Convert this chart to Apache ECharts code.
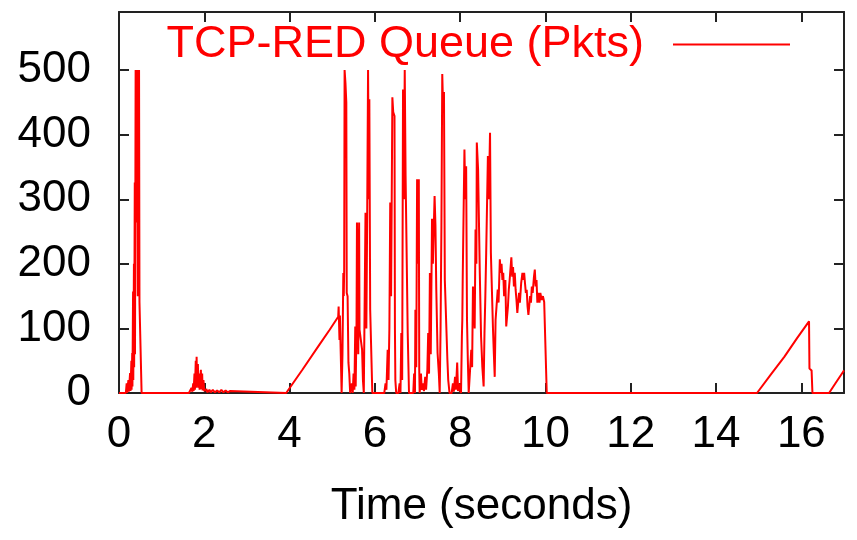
<!DOCTYPE html>
<html><head><meta charset="utf-8">
<script src="https://cdn.jsdelivr.net/npm/echarts@6/dist/echarts.min.js"></script>
<style>html,body{margin:0;padding:0;background:#fff}#c{width:857px;height:540px}</style>
</head><body><div id="c"></div>
<script>
// Time (seconds)
const times = [
  0, 0.16, 0.18, 0.19, 0.22, 0.23, 0.26, 0.27, 0.29, 0.295, 0.31, 0.315, 0.33, 0.335, 0.35, 0.355, 0.37, 0.375,
  0.39, 0.40, 0.41, 0.42, 0.43, 0.44, 0.45, 0.46, 0.47, 0.48, 0.49, 0.52, 0.53, 0.60,
  1.64, 1.68, 1.70, 1.72, 1.74, 1.75, 1.77, 1.78, 1.80, 1.81, 1.82, 1.83, 1.85, 1.86, 1.88, 1.89, 1.92, 1.93,
  1.95, 1.96, 1.98, 2.00, 2.05, 2.07, 2.12, 2.15, 2.20, 2.25, 2.30, 2.35, 2.40, 2.45, 2.50, 2.55, 2.60, 2.62,
  3.92, 4.30, 4.70, 4.94, 5.14, 5.15, 5.17, 5.18, 5.20, 5.22, 5.24, 5.26, 5.27, 5.28, 5.29, 5.31, 5.33, 5.34,
  5.36, 5.38, 5.40, 5.42, 5.46, 5.48, 5.50, 5.52, 5.54, 5.55, 5.57, 5.58, 5.60, 5.61, 5.63, 5.64, 5.68, 5.70,
  5.72, 5.74, 5.76, 5.78, 5.80, 5.82, 5.84, 5.86, 5.87, 5.89, 5.92, 5.94, 6.22, 6.25, 6.27, 6.30, 6.32, 6.34,
  6.36, 6.38, 6.41, 6.43, 6.46, 6.47, 6.48, 6.50, 6.55, 6.58, 6.60, 6.62, 6.64, 6.66, 6.68, 6.70, 6.72, 6.74,
  6.77, 6.80, 6.90, 6.92, 6.94, 6.95, 6.97, 6.99, 7.01, 7.03, 7.04, 7.05, 7.08, 7.10, 7.13, 7.15, 7.18, 7.20,
  7.23, 7.25, 7.27, 7.29, 7.31, 7.34, 7.36, 7.40, 7.42, 7.44, 7.47, 7.50, 7.52, 7.54, 7.56, 7.58, 7.60, 7.62,
  7.64, 7.67, 7.70, 7.72, 7.75, 7.80, 7.83, 7.85, 7.88, 7.90, 7.93, 7.95, 7.97, 7.99, 8.02, 8.04, 8.05, 8.06,
  8.08, 8.10, 8.12, 8.14, 8.16, 8.18, 8.20, 8.24, 8.26, 8.28, 8.30, 8.32, 8.34, 8.36, 8.38, 8.39, 8.42, 8.44,
  8.46, 8.49, 8.52, 8.55, 8.57, 8.59, 8.61, 8.63, 8.65, 8.67, 8.70, 8.72, 8.75, 8.77, 8.79, 8.81, 8.83, 8.85,
  8.88, 8.90, 8.93, 8.95, 8.97, 8.99, 9.01, 9.03, 9.06, 9.08, 9.10, 9.12, 9.14, 9.16, 9.18, 9.20, 9.22, 9.24,
  9.26, 9.28, 9.30, 9.32, 9.34, 9.36, 9.38, 9.40, 9.43, 9.46, 9.48, 9.50, 9.52, 9.54, 9.56, 9.58, 9.60, 9.62,
  9.64, 9.66, 9.68, 9.70, 9.73, 9.75, 9.77, 9.79, 9.81, 9.83, 9.86, 9.88, 9.91, 9.94, 9.97, 10.01, 10.03,
  14.96, 15.30, 15.60, 15.90, 16.18, 16.19, 16.24, 16.26, 16.65, 16.80, 16.98, 17.0
];
// TCP-RED Queue (Pkts)
const queue = [
  0, 0, 15, 0, 20, 2, 31, 3, 50, 5, 62, 10, 157, 20, 200, 40, 326, 60,
  500, 330, 500, 264, 500, 150, 500, 264, 500, 141, 141, 141, 0, 0,
  0, 3, 8, 2, 15, 3, 30, 5, 50, 8, 56, 10, 45, 8, 30, 5, 36, 6,
  30, 4, 20, 3, 6, 1, 5, 1, 5, 1, 4, 1, 5, 1, 4, 1, 3, 0,
  0, 36, 75, 98, 118, 134, 82, 120, 60, 0, 60, 186, 150, 190, 500, 480, 450, 155,
  150, 47, 30, 0, 15, 0, 30, 5, 103, 10, 110, 264, 264, 60, 264, 98, 98, 67,
  20, 0, 0, 279, 100, 279, 500, 300, 455, 129, 129, 0, 0, 15, 5, 67, 20, 100,
  295, 150, 458, 435, 429, 100, 20, 0, 0, 15, 0, 93, 20, 470, 300, 500, 336, 336,
  93, 0, 0, 30, 0, 129, 40, 331, 200, 331, 36, 0, 30, 5, 15, 3, 25, 5,
  36, 93, 30, 186, 60, 270, 200, 305, 260, 160, 62, 30, 0, 100, 258, 494, 440, 466,
  175, 175, 52, 20, 0, 0, 15, 2, 25, 5, 47, 3, 15, 5, 0, 87, 113, 180,
  180, 377, 300, 351, 113, 50, 0, 0, 67, 40, 165, 144, 100, 253, 200, 388, 346, 346,
  186, 87, 40, 10, 93, 150, 217, 217, 367, 300, 403, 217, 217, 98, 60, 25, 113, 113,
  160, 140, 207, 186, 200, 175, 186, 150, 175, 103, 103, 134, 160, 175, 175, 210, 180, 195,
  165, 186, 160, 144, 124, 124, 155, 140, 170, 186, 175, 186, 170, 155, 160, 134, 121, 121,
  150, 140, 165, 155, 180, 191, 165, 175, 140, 155, 140, 155, 144, 150, 141, 141, 0,
  0, 30, 56, 85, 111, 38, 35, 0, 0, 15, 33, 35
];
const xTickValues = [0, 2, 4, 6, 8, 10, 12, 14, 16];
const yTickValues = [0, 100, 200, 300, 400, 500];
const seriesName = 'TCP-RED Queue (Pkts)';
const xName = 'Time (seconds)';

const FONT = 'Liberation Sans';
const axisLineStyle = { color: '#222', width: 2 };
const chart = echarts.init(document.getElementById('c'), null, { renderer: 'canvas' });
const data = times.map((t, i) => [t, queue[i]]);

function baseAxis(extra) {
  return Object.assign({
    type: 'value',
    splitLine: { show: false },
    axisLine: { show: true, onZero: false, lineStyle: axisLineStyle },
    axisTick: { show: true, inside: true, length: 10, lineStyle: axisLineStyle }
  }, extra);
}

chart.setOption({
  animation: false,
  backgroundColor: '#fff',
  textStyle: { fontFamily: FONT },
  grid: { left: 119, right: 13, top: 12, bottom: 147, containLabel: false },
  legend: {
    show: true,
    right: 62,
    top: 17,
    align: 'right',
    itemWidth: 117,
    itemHeight: 2,
    data: [{ name: seriesName, icon: 'rect' }],
    textStyle: { fontFamily: FONT, fontSize: 45, color: '#ff0000', padding: [0, 24, 0, 0] },
    itemStyle: { color: '#ff0000' }
  },
  xAxis: [
    baseAxis({
      position: 'bottom', min: 0, max: 17, interval: 2,
      axisLabel: {
        show: true, fontFamily: FONT, fontSize: 44, color: '#000', margin: 20,
        showMaxLabel: false,
        formatter: v => xTickValues.includes(v) ? String(v) : ''
      },
      name: xName, nameLocation: 'middle', nameGap: 92,
      nameTextStyle: { fontFamily: FONT, fontSize: 44, color: '#000' }
    }),
    baseAxis({ position: 'top', min: 0, max: 17, interval: 2, axisLabel: { show: false } })
  ],
  yAxis: [
    baseAxis({
      position: 'left', min: 0, max: 590, interval: 100,
      axisLabel: {
        show: true, fontFamily: FONT, fontSize: 44, color: '#000', margin: 28,
        showMaxLabel: false,
        formatter: v => yTickValues.includes(v) ? String(v) : ''
      }
    }),
    baseAxis({ position: 'right', min: 0, max: 590, interval: 100, axisLabel: { show: false } })
  ],
  series: [{
    name: seriesName,
    type: 'line',
    xAxisIndex: 0, yAxisIndex: 0,
    data: data,
    symbol: 'none',
    showSymbol: false,
    sampling: null,
    lineStyle: { color: '#ff0000', width: 2 },
    itemStyle: { color: '#ff0000' },
    z: 1
  }]
});
</script>
</body></html>
